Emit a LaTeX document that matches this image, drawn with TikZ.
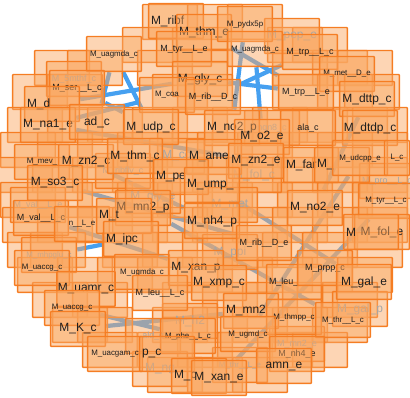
\documentclass[tikz,border=0pt]{standalone}
\usepackage{fontspec}
\setmainfont{Liberation Sans}
\pgfdeclarelayer{background}
\pgfsetlayers{background,main}

\definecolor{mline}{RGB}{245,125,35}
\definecolor{mfill}{RGB}{250,168,98}
\definecolor{medge}{RGB}{70,160,240}
\definecolor{mtext}{RGB}{30,30,30}

\tikzset{
  met/.style={draw=mline, line width=0.85pt, fill=mfill, fill opacity=0.48,
    text opacity=1, text=mtext, minimum width=1.1cm, minimum height=0.7cm,
    inner sep=0.5pt, rounded corners=0.5pt},
  bigf/.style={met, font=\fontsize{6.8}{7}\selectfont},
  midf/.style={met, font=\fontsize{5.1}{6}\selectfont},
  smlf/.style={met, font=\fontsize{4.5}{5}\selectfont},
  lft/.style={text width=1.0cm, align=left},
  faded/.style={text=black!35},
  rxn/.style={draw=medge, line width=2.4pt},
}

\begin{document}
\begin{tikzpicture}[x=0.02cm, y=-0.02cm]
\useasboundingbox (0,0) rectangle (410,398);

% boxes with hidden labels
\foreach \y/\xs in {22/{170,215,255}, 45/{150,200,295,320},
    68/{62,95,165,205,300,340,365}, 92/{40,75,180,205,300,345,372},
    125/{35,75,115,160,200,240,280,320,360,380},
    150/{28,65,105,145,185,225,265,305,345,380},
    175/{25,60,100,140,180,220,260,300,340,380},
    200/{28,65,105,145,185,225,265,305,345,380},
    225/{30,65,105,140,180,220,260,300,340,380},
    250/{35,58,130,170,210,250,290,330,375},
    275/{45,85,125,165,205,245,285,325,365},
    300/{60,100,190,230,270,310,350},
    325/{80,105,180,220,260,300,340},
    350/{110,165,205,245,285,320},
    375/{175,215,260}}
  \foreach \x in \xs
    \node[met] (f\x y\y) at (\x,\y) {};

% faded labels
\node[bigf, faded] (pepe) at (292,36) {M\_pep\_e};
\node[midf, faded] (mthf) at (74,79) {M\_5mthf\_c};
\node[bigf, faded] (folc) at (254,175) {M\_fol\_c};
\node[bigf, faded] (co) at (177,156) {M\_co};
\node[midf, faded] (proLc) at (387,181) {M\_pro\_\_L\_c};
\node[midf, faded] (ribflv) at (123,171) {M\_ribflv\_c};
\node[bigf, faded] (glye) at (153,196) {M\_gly\_e};
\node[bigf, faded] (met) at (230,205) {M\_met};
\node[midf, faded] (valLe) at (38,205) {M\_val\_\_L\_e};
\node[smlf, faded] (mhpglu) at (49,255) {M\_mhpglu\_c};
\node[bigf, faded] (ppi) at (230,252) {M\_ppi};
\node[bigf, faded] (galp) at (360,309) {M\_gal\_p};
\node[bigf, faded] (htwo) at (190,321) {M\_h2};
\node[midf, faded] (aldc) at (153,336) {ald\_c};
\node[bigf, faded] (ng) at (160,369) {M\_ng};
\node[midf, faded] (mn2e) at (297,344) {M\_mn2\_e};
\node[smlf, faded] (thrLe) at (240,365) {M\_thr\_\_L\_e};
\node[midf, faded] (nqn8) at (272,128) {nqn8\_c};

% top
\node[bigf, lft] (ribf) at (176,21) {M\_ribf};
\node[bigf] (thme) at (204,32) {M\_thm\_e};
\node[smlf] (pydx5p) at (245,24) {M\_pydx5p};
\node[smlf] (uagmda1) at (114,54) {M\_uagmda\_c};
\node[midf] (tyrLe) at (184,49) {M\_tyr\_\_L\_e};
\node[smlf] (uagmda2) at (255,49) {M\_uagmda\_c};
\node[midf] (trpLc) at (310,52) {M\_trp\_\_L\_c};
\node[smlf] (metDe) at (347,74) {M\_met\_\_D\_e};
\node[midf] (trpLe) at (306,92) {M\_trp\_\_L\_e};
\node[bigf] (dttp) at (367,99) {M\_dttp\_c};
\node[bigf] (dtdp) at (370,128) {M\_dtdp\_c};
\node[midf] (serLc) at (77,88) {M\_ser\_\_L\_c};
\node[bigf] (glyc) at (200,79) {M\_gly\_c};
\node[smlf] (coa) at (167,95) {M\_coa};
\node[midf] (ribDc) at (213,97) {M\_rib\_\_D\_c};

% upper middle
\node[bigf, lft] (d) at (52,104) {M\_d};
\node[bigf] (na1e) at (48,125) {M\_na1\_e};
\node[bigf] (adc) at (97,122) {ad\_c};
\node[bigf] (udpc) at (151,127) {M\_udp\_c};
\node[bigf, lft] (no2p) at (232,128) {M\_no2\_p};
\node[midf] (alac) at (308,128) {ala\_c};
\node[bigf] (o2e) at (262,137) {M\_o2\_e};
\node[smlf] (mev) at (42,162) {M\_mev\_};
\node[bigf] (zn2c) at (86,162) {M\_zn2\_c};
\node[bigf] (thmc) at (135,156) {M\_thm\_c};
\node[bigf, lft] (ame) at (214,157) {M\_ame};
\node[bigf] (zn2e) at (256,161) {M\_zn2\_e};
\node[bigf, lft] (far) at (311,165) {M\_far};
\node[bigf, lft] (mfar) at (342,165) {M\_};
\node[smlf] (udcpp) at (360,158) {M\_udcpp\_e};
\node[smlf, minimum width=0.5cm] (Lc) at (397,158) {L\_c};
\node[smlf] (tyrLc) at (386,201) {M\_tyr\_\_L\_c};
\node[bigf] (so3c) at (55,183) {M\_so3\_c};
\node[bigf, lft] (pe) at (181,177) {M\_pe};
\node[bigf, lft] (ump) at (212,185) {M\_ump\_};

% lower middle
\node[bigf] (no2e) at (315,208) {M\_no2\_e};
\node[bigf] (mn2p) at (143,208) {M\_mn2\_p};
\node[midf] (valLc) at (41,218) {M\_val\_\_L\_c};
\node[smlf] (asnLe) at (82,224) {n\_\_L\_e};
\node[bigf, lft] (t) at (124,216) {M\_t};
\node[bigf] (nh4p) at (212,221) {M\_nh4\_p};
\node[bigf] (fole) at (382,232) {M\_fol\_e};
\node[bigf, lft] (mfol) at (371,232) {M};
\node[midf] (ribDe) at (264,243) {M\_rib\_\_D\_e};
\node[bigf, lft] (ipc) at (131,239) {M\_ipc};
\node[smlf] (uaccg1) at (42,268) {M\_uaccg\_c};
\node[smlf] (ugmdac) at (142,272) {M\_ugmda\_c};
\node[bigf] (xanp) at (196,268) {M\_xan\_p};
\node[bigf] (xmpc) at (219,283) {M\_xmp\_c};
\node[midf, lft] (leu1) at (294,282) {M\_leu\_};
\node[midf] (prpp) at (325,268) {M\_prpp\_c};
\node[bigf] (gale) at (364,282) {M\_gal\_e};

% bottom
\node[bigf] (uamr) at (86,289) {M\_uamr\_c};
\node[midf] (leu2) at (160,293) {M\_leu\_\_L\_c};
\node[smlf] (uaccg2) at (72,308) {M\_uaccg\_c};
\node[bigf] (Kc) at (78,329) {M\_K\_c};
\node[smlf] (pheLc) at (188,336) {M\_phe\_\_L\_c};
\node[smlf] (uacgam) at (115,354) {M\_uacgam\_c};
\node[bigf, lft] (pc) at (167,354) {p\_c};
\node[bigf, lft] (c) at (199,376) {M\_c};
\node[bigf] (xane) at (219,378) {M\_xan\_e};
\node[bigf, lft] (mn2) at (251,311) {M\_mn2};
\node[smlf] (thmpp) at (294,317) {M\_thmpp\_c};
\node[smlf] (thrLc) at (343,320) {M\_thr\_\_L\_c};
\node[smlf] (ugmd) at (248,334) {M\_ugmd\_c};
\node[midf] (nh4e) at (297,354) {M\_nh4\_e};
\node[bigf] (amne) at (284,366) {amn\_e};

% reactions behind the boxes
\begin{pgfonlayer}{background}
\draw[rxn] (serLc) -- (udpc);
\draw[rxn] (uagmda1) -- (udpc);
\draw[rxn] (glyc) -- (d);
\draw[rxn] (coa) -- (na1e);
\draw[rxn] (uagmda1) -- (adc);
\draw[rxn] (uagmda2) -- (o2e);
\draw[rxn] (trpLc) -- (ribDc);
\draw[rxn] (thme) -- (trpLe);
\draw[rxn] (glyc) -- (trpLe);
\draw[rxn] (pydx5p) -- (no2p);
\draw[rxn] (mhpglu) -- (ipc);
\draw[rxn] (Kc) -- (mn2);
\draw[rxn] (uaccg2) -- (pheLc);
\draw[rxn] (dttp) -- (no2e);
\draw[rxn] (zn2c) -- (nh4p);
\draw[rxn] (valLc) -- (xanp);
\draw[rxn] (so3c) -- (ribDe);
\draw[rxn] (na1e) -- (zn2e);
\draw[rxn] (udcpp) -- (ugmd);
\draw[rxn] (tyrLc) -- (xane);
\draw[rxn] (ump) -- (gale);
\draw[rxn] (mn2p) -- (thrLc);
\end{pgfonlayer}
\end{tikzpicture}
\end{document}
